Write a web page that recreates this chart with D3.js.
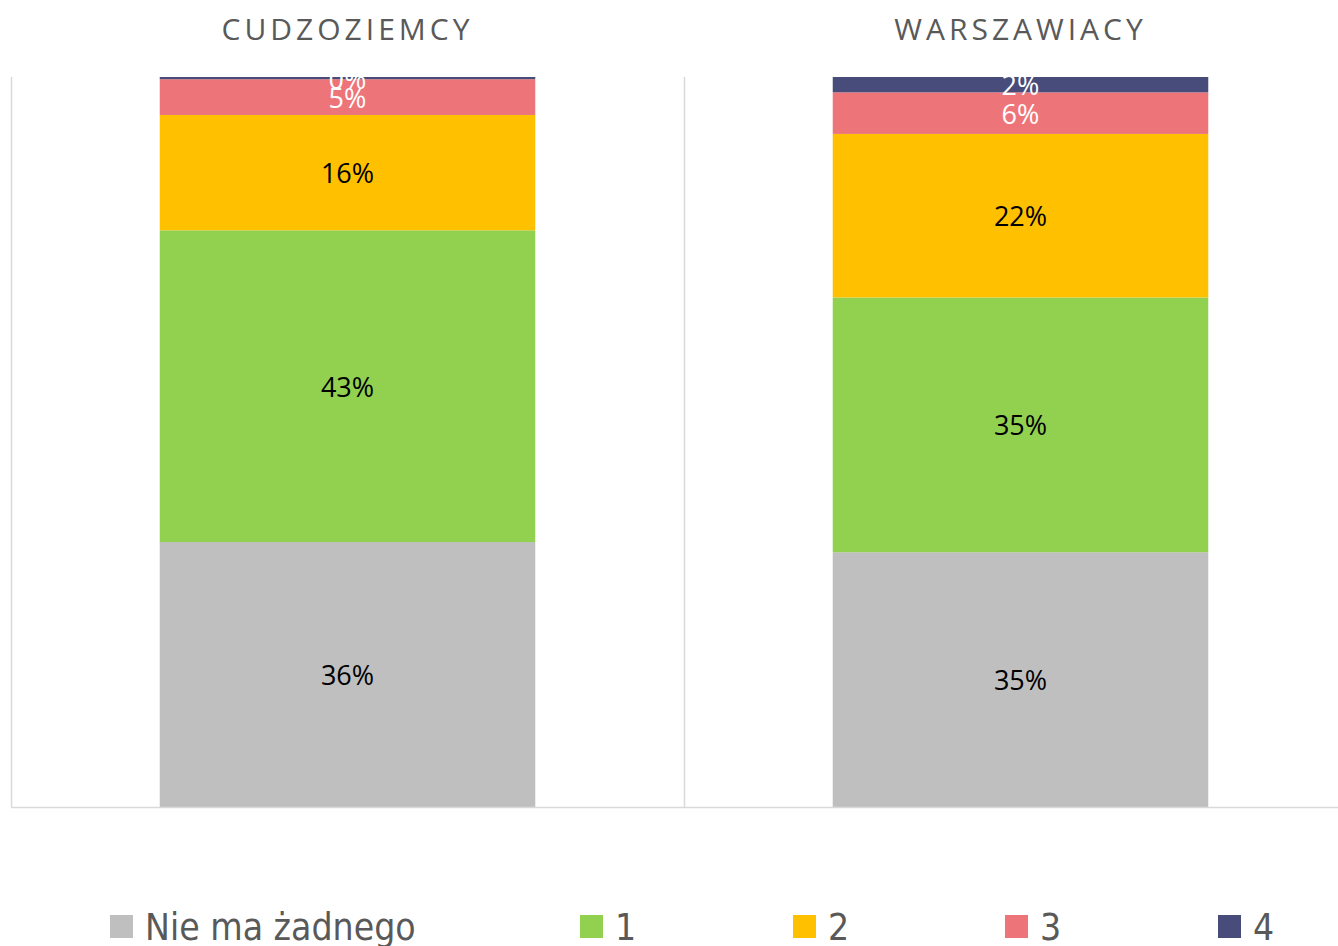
<!DOCTYPE html>
<html>
<head>
<meta charset="utf-8">
<script src="https://cdn.jsdelivr.net/npm/d3@7"></script>
<style>
  html, body { margin: 0; padding: 0; background: #fff; }
  svg { display: block; }
</style>
</head>
<body>
<div id="chart"></div>
<script>
// categories (panels) and series
const groups = ['CUDZOZIEMCY', 'WARSZAWIACY'];
const seriesNames = ['Nie ma żadnego', '1', '2', '3', '4'];
const seriesColors = ['#bfbfbf', '#92d050', '#ffc000', '#ed7579', '#474c7a'];
const labelColors = ['#000', '#000', '#000', '#fff', '#fff'];

// share per series, in group order
const noneValues = [36.3, 34.9];
const oneValues = [42.7, 34.9];
const twoValues = [15.8, 22.4];
const threeValues = [4.9, 5.7];
const fourValues = [0.3, 2.1];

const width = 1338, height = 946;
const plot = { left: 11, right: 1357, top: 77, bottom: 807 };

const rows = groups.map((g, i) => ({
  group: g,
  'Nie ma żadnego': noneValues[i],
  '1': oneValues[i],
  '2': twoValues[i],
  '3': threeValues[i],
  '4': fourValues[i]
}));

const stacked = d3.stack().keys(seriesNames)(rows);

const x = d3.scaleBand()
  .domain(groups)
  .range([plot.left, plot.right])
  .padding(0);

const y = d3.scaleLinear()
  .domain([0, 100])
  .range([plot.bottom, plot.top]);

const barW = x.bandwidth() * 0.558;

const svg = d3.select('#chart')
  .append('svg')
  .attr('width', width)
  .attr('height', height);

svg.append('defs').append('clipPath')
  .attr('id', 'plotClip')
  .append('rect')
  .attr('x', 0)
  .attr('y', plot.top)
  .attr('width', width)
  .attr('height', plot.bottom - plot.top);

// category separators
svg.append('g')
  .selectAll('line')
  .data(groups)
  .enter()
  .append('line')
  .attr('x1', d => x(d) + 0.5)
  .attr('x2', d => x(d) + 0.5)
  .attr('y1', plot.top)
  .attr('y2', plot.bottom)
  .attr('stroke', '#d9d9d9')
  .attr('stroke-width', 1.5);

// bars
const layers = svg.append('g')
  .selectAll('g')
  .data(stacked)
  .enter()
  .append('g')
  .attr('fill', (d, i) => seriesColors[i]);

layers.selectAll('rect')
  .data(d => d)
  .enter()
  .append('rect')
  .attr('x', d => x(d.data.group) + (x.bandwidth() - barW) / 2)
  .attr('y', d => y(d[1]))
  .attr('width', barW)
  .attr('height', d => y(d[0]) - y(d[1]));

// bottom axis line
svg.append('line')
  .attr('x1', plot.left)
  .attr('x2', width)
  .attr('y1', plot.bottom + 0.5)
  .attr('y2', plot.bottom + 0.5)
  .attr('stroke', '#d9d9d9')
  .attr('stroke-width', 1.5);

// data labels (clipped at the plot top like the original)
const labels = svg.append('g')
  .attr('clip-path', 'url(#plotClip)')
  .style('font-family', '"Open Sans", "Noto Sans", sans-serif')
  .style('font-size', '27px');

stacked.forEach((layer, si) => {
  labels.selectAll('text.s' + si)
    .data(layer)
    .enter()
    .append('text')
    .attr('class', 's' + si)
    .attr('x', d => x(d.data.group) + x.bandwidth() / 2)
    .attr('y', d => (y(d[0]) + y(d[1])) / 2)
    .attr('text-anchor', 'middle')
    .attr('dominant-baseline', 'central')
    .attr('fill', labelColors[si])
    .text(d => Math.round(d[1] - d[0]) + '%');
});

// panel titles
svg.append('g')
  .selectAll('text')
  .data(groups)
  .enter()
  .append('text')
  .attr('x', d => x(d) + x.bandwidth() / 2)
  .attr('y', 28)
  .attr('text-anchor', 'middle')
  .attr('dominant-baseline', 'central')
  .attr('fill', '#595959')
  .style('font-family', '"Open Sans", "Noto Sans", sans-serif')
  .style('font-size', '30px')
  .style('letter-spacing', '4px')
  .text(d => d);

// legend
const legendX = [110, 580, 793, 1005, 1218];
const legend = svg.append('g')
  .selectAll('g')
  .data(seriesNames)
  .enter()
  .append('g')
  .attr('transform', (d, i) => `translate(${legendX[i]},915)`);

legend.append('rect')
  .attr('width', 23)
  .attr('height', 23)
  .attr('fill', (d, i) => seriesColors[i]);

legend.append('text')
  .attr('x', 35)
  .attr('y', 12)
  .attr('dominant-baseline', 'central')
  .attr('fill', '#595959')
  .style('font-family', '"Liberation Sans Narrow", "DejaVu Sans Condensed", sans-serif')
  .style('font-size', '37px')
  .text(d => d);
</script>
</body>
</html>
